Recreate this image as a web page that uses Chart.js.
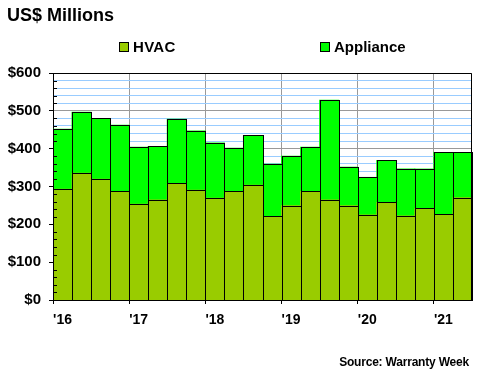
<!DOCTYPE html>
<html><head><meta charset="utf-8">
<script src="https://cdn.jsdelivr.net/npm/chart.js@4"></script>
<style>
html,body{margin:0;padding:0;background:#fff;}
#wrap{position:relative;width:480px;height:380px;font-family:"Liberation Sans",Arial,sans-serif;font-weight:bold;color:#000;overflow:hidden;}
canvas{position:absolute;left:0;top:0;}
.t{position:absolute;white-space:nowrap;}
.box{position:absolute;width:8px;height:8px;border:1px solid #000;}
</style></head>
<body><div id="wrap">
<canvas id="c" width="480" height="380"></canvas>
<div class="t" style="left:7px;top:6px;font-size:18px;line-height:18px">US$ Millions</div>
<div class="box" style="left:119px;top:42px;background:#99CC00"></div>
<div class="t" style="left:133px;top:39px;font-size:15px;line-height:15px;letter-spacing:0.3px">HVAC</div>
<div class="box" style="left:320px;top:42px;background:#00FF00"></div>
<div class="t" style="left:334px;top:39px;font-size:15px;line-height:15px">Appliance</div>
<div class="t" style="right:11px;top:356px;font-size:12px;line-height:12px;letter-spacing:-0.2px">Source: Warranty Week</div>
</div>
<script>
const quarters = ['2016Q1','2016Q2','2016Q3','2016Q4','2017Q1','2017Q2','2017Q3','2017Q4','2018Q1','2018Q2','2018Q3','2018Q4','2019Q1','2019Q2','2019Q3','2019Q4','2020Q1','2020Q2','2020Q3','2020Q4','2021Q1','2021Q2'];
const yearLabels = ["'16","'17","'18","'19","'20","'21"];
const hvac = [293,335,319,287,253,264,308,290,269,287,303,221,249,287,264,249,225,258,222,242,226,270];
const appliance = [158,161,161,175,151,142,170,157,146,114,132,138,131,117,264,102,99,111,124,104,164,120];

const FONT = '"Liberation Sans", Arial, sans-serif';

const framePlugin = {
  id: 'frame',
  afterDatasetsDraw(chart) {
    const {ctx, chartArea: a, scales: {y}} = chart;
    ctx.save();
    ctx.strokeStyle = '#000';
    ctx.lineWidth = 1;
    // bar outlines, taken from the bar elements laid out by Chart.js
    chart.data.datasets.forEach((ds, i) => {
      chart.getDatasetMeta(i).data.forEach(el => {
        const p = el.getProps(['x', 'y', 'base', 'width'], true);
        const l = Math.round(p.x - p.width / 2) + 0.5;
        const r = Math.round(p.x + p.width / 2) + 0.5;
        const t = Math.round(p.y) + 0.5;
        const b = Math.round(p.base) + 0.5;
        ctx.strokeRect(l, t, r - l, b - t);
      });
    });
    ctx.beginPath();
    for (let v = 20; v < 600; v += 20) {
      if (v % 100 === 0) continue;
      const py = Math.round(y.getPixelForValue(v)) + 0.5;
      ctx.moveTo(a.left, py);
      ctx.lineTo(a.left + 4, py);
    }
    const t = Math.round(a.top) + 0.5, r = Math.round(a.right) - 0.5;
    ctx.moveTo(a.left, t); ctx.lineTo(r, t);
    ctx.moveTo(r, t); ctx.lineTo(r, a.bottom);
    ctx.stroke();
    ctx.restore();
  }
};

new Chart(document.getElementById('c'), {
  type: 'bar',
  data: {
    labels: quarters,
    datasets: [
      {label: 'HVAC', data: hvac, backgroundColor: '#99CC00'},
      {label: 'Appliance', data: appliance, backgroundColor: '#00FF00'}
    ]
  },
  options: {
    responsive: false,
    devicePixelRatio: 1,
    animation: false,
    layout: {padding: {left: 0, right: 8, top: 73, bottom: 0}},
    datasets: {
      bar: {
        barPercentage: 1, categoryPercentage: 1,
        borderWidth: 0,
        inflateAmount: 0.5
      }
    },
    plugins: {legend: {display: false}, title: {display: false}, tooltip: {enabled: false}},
    scales: {
      x: {
        stacked: true,
        offset: true,
        afterFit(s) { s.height = 80; },
        grid: {
          offset: true,
          drawOnChartArea: true,
          color: c => (c.index % 4 === 0 ? '#999999' : 'rgba(0,0,0,0)'),
          tickColor: c => (c.index % 4 === 0 ? '#000' : 'rgba(0,0,0,0)'),
          tickLength: 4,
          lineWidth: 1
        },
        border: {color: '#000', width: 1},
        ticks: {
          autoSkip: false, maxRotation: 0, minRotation: 0, padding: 8,
          color: '#000',
          font: {family: FONT, size: 14, weight: 'bold'},
          callback: (v, i) => (i % 4 === 0 ? yearLabels[i / 4] : '')
        }
      },
      y: {
        stacked: true,
        min: 0, max: 600,
        afterFit(s) { s.width = 53; },
        grid: {
          color: c => (c.tick.value % 100 === 0 ? '#999999' : '#99CCFF'),
          tickColor: c => (c.tick.value % 100 === 0 ? '#000' : 'rgba(0,0,0,0)'),
          tickLength: 4,
          lineWidth: 1
        },
        border: {color: '#000', width: 1},
        ticks: {
          stepSize: 20, autoSkip: false, padding: 8,
          color: '#000',
          font: {family: FONT, size: 15, weight: 'bold'},
          callback: v => (v % 100 === 0 ? '$' + v : '')
        }
      }
    }
  },
  plugins: [framePlugin]
});
</script>
</body></html>
